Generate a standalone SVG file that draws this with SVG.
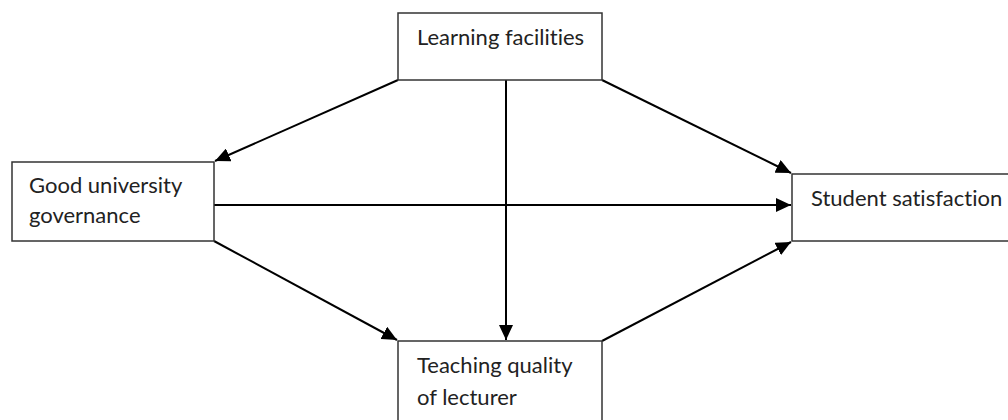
<svg xmlns="http://www.w3.org/2000/svg" width="1008" height="420" viewBox="0 0 1008 420">
<style>
.box{fill:#fff;stroke:#333;stroke-width:1.5}
.lbl{font-family:Lato,"Liberation Sans",sans-serif;font-size:22px;fill:#222;font-variant-ligatures:none;font-feature-settings:"liga" 0,"clig" 0}
.arr{stroke:#000;stroke-width:2;fill:none;marker-end:url(#ah)}
</style>
<defs>
<marker id="ah" markerWidth="7.5" markerHeight="7" refX="7.5" refY="3.5" orient="auto" markerUnits="strokeWidth">
<path d="M0,0 L7.5,3.5 L0,7 Z" fill="#000"/>
</marker>
</defs>
<rect width="1008" height="420" fill="#fff"/>
<g id="connectors">
<line class="arr" x1="398" y1="80" x2="215" y2="161"/>
<line class="arr" x1="506" y1="80" x2="506" y2="340"/>
<line class="arr" x1="602" y1="80" x2="791" y2="173"/>
<line class="arr" x1="214" y1="205" x2="791" y2="205"/>
<line class="arr" x1="214" y1="241" x2="397" y2="340"/>
<line class="arr" x1="602" y1="341" x2="791" y2="242"/>
</g>
<g id="learning-facilities">
<rect class="box" x="398" y="13" width="204" height="67"/>
<text class="lbl" x="417" y="45">Learning facilities</text>
</g>
<g id="good-university-governance">
<rect class="box" x="12" y="162" width="202" height="79"/>
<text class="lbl" x="29" y="193">Good university</text>
<text class="lbl" x="29" y="223">governance</text>
</g>
<g id="student-satisfaction">
<rect class="box" x="792" y="174" width="220" height="67"/>
<text class="lbl" x="811" y="206">Student satisfaction</text>
</g>
<g id="teaching-quality">
<rect class="box" x="398" y="341" width="204" height="90"/>
<text class="lbl" x="417" y="373">Teaching quality</text>
<text class="lbl" x="417" y="405">of lecturer</text>
</g>
</svg>
